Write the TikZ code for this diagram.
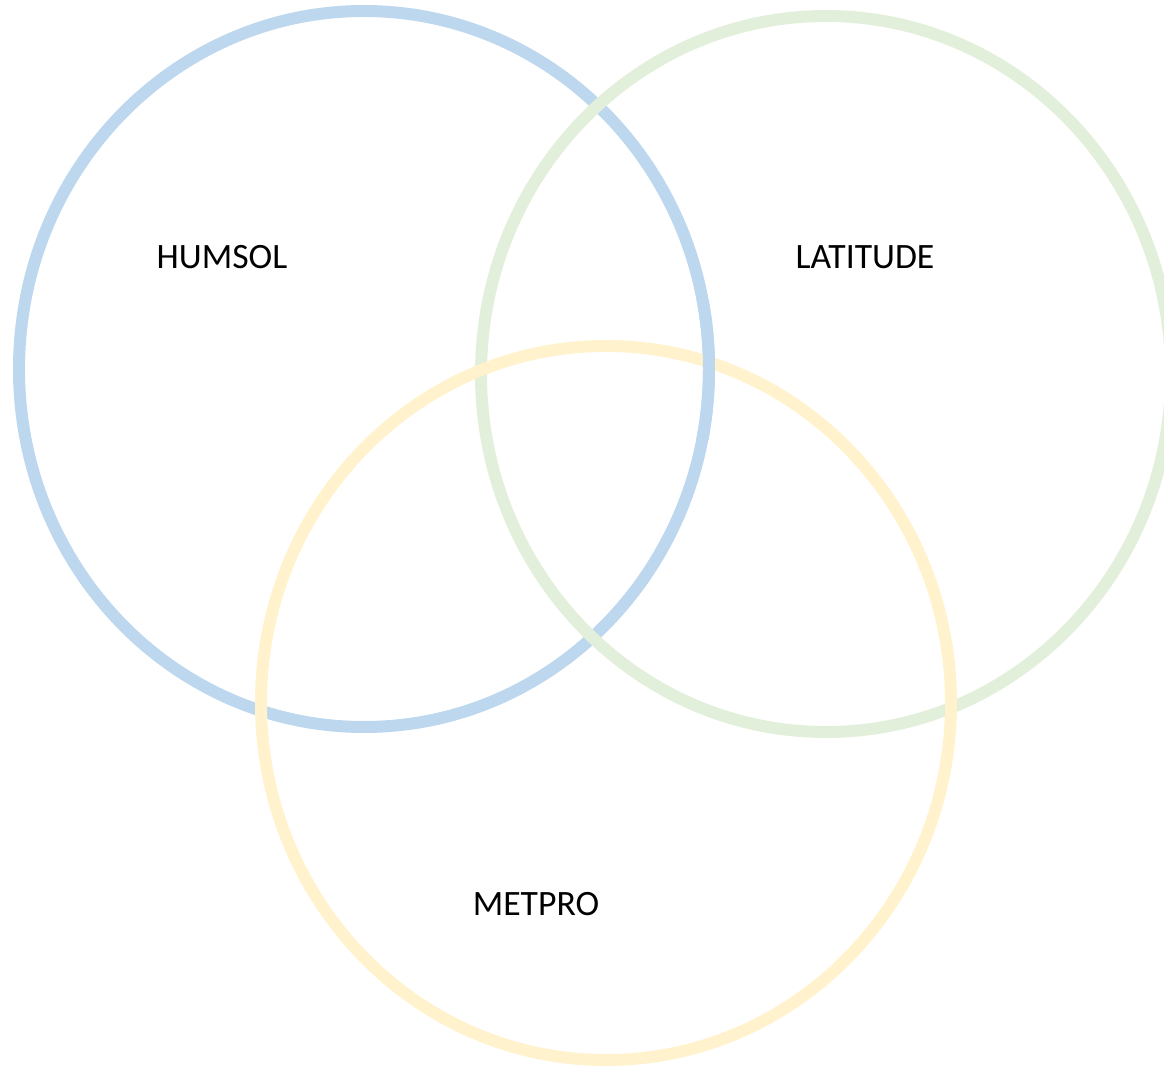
\documentclass[tikz,border=0pt]{standalone}
\usepackage{fontspec}
\setmainfont{Carlito}
\usepackage{tikz}
\usetikzlibrary{positioning}
\definecolor{humsolcolor}{RGB}{189,215,238}
\definecolor{latitudecolor}{RGB}{226,239,218}
\definecolor{metprocolor}{RGB}{255,242,204}

\begin{document}
\begin{tikzpicture}[
    x=0.02cm, y=-0.02cm,
    ring/.style={line width=0.24cm},
    label/.style={anchor=base, inner sep=0pt, font=\fontsize{20.3}{24}\selectfont}
]
\useasboundingbox (0,0) rectangle (1164,1068);

% circles
\draw[ring, humsolcolor] (364,369) ellipse [x radius=345, y radius=358];
\draw[ring, latitudecolor] (826,374) ellipse [x radius=345, y radius=358];
\draw[ring, metprocolor] (606,703) ellipse [x radius=345, y radius=357];
% blue passes over yellow on the right
\begin{scope}
\clip (670,300) rectangle (750,440);
\draw[ring, humsolcolor] (364,369) ellipse [x radius=345, y radius=358];
\end{scope}

\node[label] (humsol) at (222,268) {HUMSOL};
\node[label] (latitude) at (865,268) {LATITUDE};
\node[label] (metpro) at (536,915) {METPRO};

\end{tikzpicture}
\end{document}
